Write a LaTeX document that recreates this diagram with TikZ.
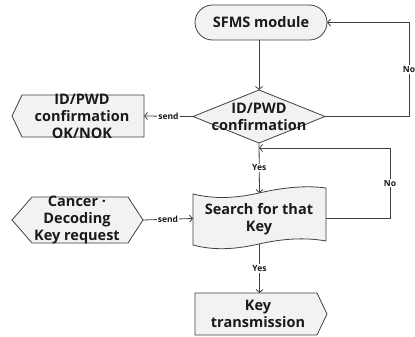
\documentclass[tikz,border=0pt]{standalone}
\usepackage{fontspec}
\setmainfont{Open Sans}[BoldFont={Open Sans Bold}]
\usetikzlibrary{arrows.meta,shapes.geometric,shapes.misc,calc}
\definecolor{fillg}{HTML}{F2F2F2}
\definecolor{lineg}{HTML}{404040}
\definecolor{txtc}{HTML}{1A1A1A}
\tikzset{
  shp/.style={draw=lineg, fill=fillg, line width=0.8pt, line join=miter},
  holder/.style={inner sep=0pt, outer sep=0pt},
  txt/.style={font=\bfseries\fontsize{14.5}{17}\selectfont, align=center, text=txtc, inner sep=0pt},
  lbl/.style={font=\bfseries\fontsize{8.5}{10}\selectfont, text=txtc, fill=white, inner sep=1pt},
  arr/.style={draw=lineg, line width=0.8pt, -{Straight Barb[length=3pt,width=7pt]}},
}
\begin{document}
\begin{tikzpicture}[x=1pt,y=-1pt]
\useasboundingbox (0,0) rectangle (415,337);
% SFMS module
\node[rounded rectangle, shp, minimum width=132pt, minimum height=35pt, holder] (sfms) at (261,22.5) {};
\node[txt] (sfmst) at (sfms) {SFMS module};
% diamond
\node[diamond, shp, minimum width=132pt, minimum height=53pt, holder] (dia) at (259,116.5) {};
\node[txt] (diat) at (dia) {ID/PWD\\confirmation};
% ID/PWD OK/NOK box (left pointed)
\node[holder, minimum width=132pt, minimum height=42pt] (okb) at (78,116) {};
\draw[shp] (okb.west) -- ([xshift=10pt]okb.north west) -- (okb.north east) -- (okb.south east) -- ([xshift=10pt]okb.south west) -- cycle;
\node[txt] (okbt) at (82,116) {ID/PWD\\confirmation\\OK/NOK};
% hexagon
\node[holder, minimum width=131pt, minimum height=46pt] (hex) at (77.5,220) {};
\draw[shp] (hex.west) -- ([xshift=20pt]hex.north west) -- ([xshift=-15pt]hex.north east) -- (hex.east) -- ([xshift=-15pt]hex.south east) -- ([xshift=20pt]hex.south west) -- cycle;
\node[txt] (hext) at (77,220) {Cancer ·\\Decoding\\Key request};
% tape
\node[holder, minimum width=133pt, minimum height=51pt] (tape) at (259.5,218.5) {};
\draw[shp] (193,194) .. controls (215,199.5) and (237,198) .. (259,193)
  .. controls (281,188) and (304,185) .. (326,188) -- (326,241)
  .. controls (304,237) and (281,239) .. (259,244)
  .. controls (237,249) and (215,251) .. (193,245) -- cycle;
\node[txt] (tapet) at (259,219) {Search for that\\Key};
% key transmission
\node[holder, minimum width=132pt, minimum height=42pt] (kt) at (261,314) {};
\draw[shp] (kt.north west) -- ([xshift=-10pt]kt.north east) -- (kt.east) -- ([xshift=-10pt]kt.south east) -- (kt.south west) -- cycle;
\node[txt] (ktt) at (258,314) {Key\\transmission};
% connectors
\draw[arr] (dia.north |- sfms.south) -- (dia.north);
\draw[arr] (dia.east) -- ++(84,0) |- node[lbl,pos=0.25]{No} (sfms.east);
\draw[arr] (dia.west) -- node[lbl]{send} (okb.east);
\draw[arr] (dia.south) -- node[lbl]{Yes} (tape.north);
\coordinate (join) at ([yshift=-5pt]dia.south);
\draw[arr] (tape.east) -- ++(64,0) |- node[lbl,pos=0.25]{No} (join);
\draw[arr] (hex.east) -- node[lbl]{send} (tape.west);
\draw[arr] (tape.south) -- node[lbl]{Yes} (tape.south |- kt.north);
\end{tikzpicture}
\end{document}
